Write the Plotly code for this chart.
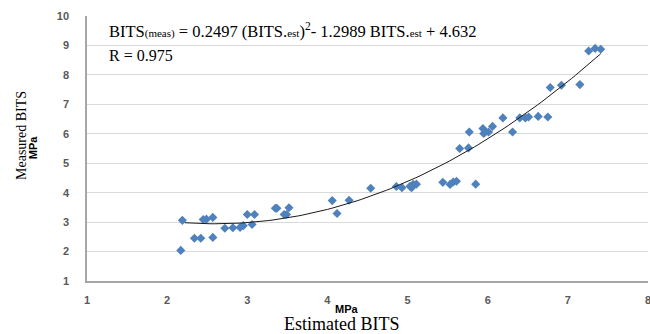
import numpy as np
import plotly.graph_objects as go

# Data
est_bits = [2.19, 2.17, 2.34, 2.42, 2.57, 2.45, 2.49, 2.57, 2.72, 2.82, 2.91, 2.95,
            3.00, 3.09, 3.06, 3.35, 3.37, 3.46, 3.49, 3.52, 4.06, 4.12, 4.27, 4.54,
            4.86, 4.93, 5.03, 5.07, 5.11, 5.05, 5.44, 5.53, 5.57, 5.61, 5.85, 5.65,
            5.76, 5.77, 5.94, 5.97, 5.95, 6.01, 6.06, 6.19, 6.31, 6.40, 6.47, 6.51,
            6.63, 6.75, 6.78, 6.92, 7.15, 7.26, 7.34, 7.41]
meas_bits = [3.06, 2.04, 2.45, 2.45, 2.48, 3.09, 3.10, 3.16, 2.79, 2.81, 2.82, 2.88,
             3.26, 3.26, 2.92, 3.47, 3.47, 3.26, 3.26, 3.49, 3.73, 3.29, 3.74, 4.15,
             4.21, 4.17, 4.22, 4.28, 4.29, 4.17, 4.35, 4.28, 4.36, 4.39, 4.29, 5.50,
             5.52, 6.06, 6.18, 6.06, 6.01, 6.06, 6.25, 6.54, 6.06, 6.54, 6.54, 6.57,
             6.59, 6.57, 7.57, 7.65, 7.67, 8.81, 8.90, 8.87]

# Trendline coefficients stated on the chart
coef_a, coef_b, coef_c = 0.2497, -1.2989, 4.632

x_ticks = [1, 2, 3, 4, 5, 6, 7, 8]
y_ticks = [1, 2, 3, 4, 5, 6, 7, 8, 9, 10]

tx = np.linspace(2.22, max(est_bits), 100)
ty = coef_a * tx**2 + coef_b * tx + coef_c

fig = go.Figure()
fig.add_trace(go.Scatter(
    x=est_bits, y=meas_bits, mode="markers",
    marker=dict(symbol="diamond", size=7, color="#4f81bd"),
    showlegend=False, hoverinfo="x+y"))
fig.add_trace(go.Scatter(
    x=tx, y=ty, mode="lines", line=dict(color="#1a1a1a", width=1),
    showlegend=False, hoverinfo="skip"))

tick_font = dict(family="Liberation Sans, Arial", size=11, color="#595959", weight="bold")

fig.update_layout(
    width=650, height=334,
    margin=dict(l=87, r=2, t=16, b=53),
    paper_bgcolor="white", plot_bgcolor="white",
    xaxis=dict(range=[1, 8], tickvals=x_ticks, showgrid=False, zeroline=False,
               showline=True, linecolor="#a6a6a6", linewidth=1.5,
               tickfont=tick_font, ticks="", ticklabelstandoff=8,
               ticklabeloverflow="allow", automargin=False),
    yaxis=dict(range=[1, 10], tickvals=y_ticks, showgrid=True, gridcolor="#d9d9d9",
               gridwidth=1, zeroline=False, showline=True, linecolor="#a6a6a6",
               linewidth=1.5, tickfont=tick_font, ticks="", ticklabelstandoff=14,
               automargin=False),
)

serif = "Liberation Serif, Times New Roman"
small = '<span style="font-size:11px">'
eq = ("BITS" + small + "(meas)</span> = 0.2497 (BITS." + small + "est</span>)"
      "<sup>2</sup>- 1.2989 BITS." + small + "est</span> + 4.632")

fig.add_annotation(xref="paper", yref="y", x=0.0357, y=9.51, text=eq,
                   showarrow=False, xanchor="left", yanchor="middle",
                   font=dict(family=serif, size=16.5, color="black"))
fig.add_annotation(xref="paper", yref="y", x=0.0357, y=8.67, text="R = 0.975",
                   showarrow=False, xanchor="left", yanchor="middle",
                   font=dict(family=serif, size=16, color="black"))

# Axis titles
fig.add_annotation(xref="paper", yref="paper", x=-0.1164, y=0.55, text="Measured BITS",
                   showarrow=False, textangle=-90, xanchor="center", yanchor="middle",
                   font=dict(family=serif, size=14, color="black"))
fig.add_annotation(xref="paper", yref="paper", x=-0.0963, y=0.505, text="<b>MPa</b>",
                   showarrow=False, textangle=-90, xanchor="center", yanchor="middle",
                   font=dict(family="Liberation Sans, Arial", size=11, color="black"))
fig.add_annotation(xref="paper", yref="paper", x=0.4635, y=-0.1055, text="<b>MPa</b>",
                   showarrow=False, xanchor="center", yanchor="middle",
                   font=dict(family="Liberation Sans, Arial", size=11, color="black"))
fig.add_annotation(xref="paper", yref="paper", x=0.4545, y=-0.162, text="Estimated BITS",
                   showarrow=False, xanchor="center", yanchor="middle",
                   font=dict(family=serif, size=18, color="black"))

fig.write_html("out.html", config={"displayModeBar": False},
               post_script="document.body.style.margin='0';")
